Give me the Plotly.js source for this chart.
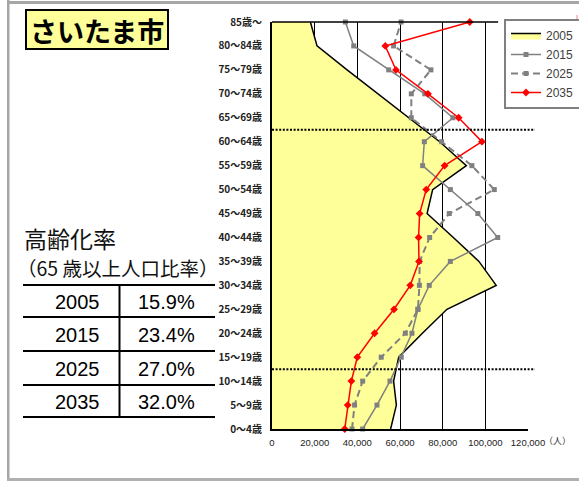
<!DOCTYPE html>
<html>
<head>
<meta charset="utf-8">
<script src="https://cdn.plot.ly/plotly-3.0.1.min.js"></script>
<style>
html,body{margin:0;padding:0;background:#fff;overflow:hidden;}
#chart{width:579px;height:481px;}
</style>
</head>
<body>
<div id="chart"></div>
<script>
// ---- data ----
const ageGroups = ["0〜4歳","5〜9歳","10〜14歳","15〜19歳","20〜24歳","25〜29歳","30〜34歳","35〜39歳","40〜44歳","45〜49歳","50〜54歳","55〜59歳","60〜64歳","65〜69歳","70〜74歳","75〜79歳","80〜84歳","85歳〜"];
const pop2005 = [55600, 58300, 57000, 59400, 70500, 82000, 105100, 97000, 85000, 72700, 75300, 91100, 78600, 64000, 49700, 35200, 21100, 18000];
const pop2015 = [42500, 49200, 55300, 60600, 65600, 68400, 73700, 83600, 105800, 96500, 83600, 70600, 71400, 84800, 71600, 54700, 38300, 34400];
const pop2025 = [37500, 38700, 42500, 51200, 62500, 68400, 69100, 69200, 73900, 83100, 104200, 93700, 79500, 65300, 65300, 74500, 57000, 60500];
const pop2035 = [34100, 35500, 37200, 40000, 48100, 57200, 64800, 68900, 68700, 69200, 72300, 80900, 98400, 87500, 73100, 58100, 53100, 92700];
const seriesNames = ["2005", "2015", "2025", "2035"];
const xTickVals = [0, 20000, 40000, 60000, 80000, 100000, 120000];
const xTickText = ["0", "20,000", "40,000", "60,000", "80,000", "100,000", "120,000"];
const tableYears = ["2005", "2015", "2025", "2035"];
const tableRates = ["15.9%", "23.4%", "27.0%", "32.0%"];
const cityName = "さいたま市";
const rateTitle = "高齢化率";
const rateSub = "（65 歳以上人口比率）";
const unitLabel = "（人）";

// ---- geometry helpers (pixel -> paper) ----
const W = 579, H = 481;
const L = 272, R = 528, T = 22, B = 429;
const px = x => (x - L) / (R - L);
const py = y => (B - y) / (B - T);

const traces = [
  {
    name: seriesNames[0], x: pop2005, y: ageGroups, type: "scatter", mode: "lines",
    fill: "tozerox", fillcolor: "#FFFF99",
    line: {color: "#000000", width: 1.5}
  },
  {
    name: seriesNames[1], x: pop2015, y: ageGroups, type: "scatter", mode: "lines+markers",
    line: {color: "#808080", width: 1.5},
    marker: {symbol: "square", size: 5, color: "#808080"}, cliponaxis: false
  },
  {
    name: seriesNames[2], x: pop2025, y: ageGroups, type: "scatter", mode: "lines+markers",
    line: {color: "#808080", width: 2, dash: "7px,4px"},
    marker: {symbol: "square", size: 5, color: "#808080"}, cliponaxis: false
  },
  {
    name: seriesNames[3], x: pop2035, y: ageGroups, type: "scatter", mode: "lines+markers",
    line: {color: "#FF0000", width: 1.5},
    marker: {symbol: "diamond", size: 6, color: "#FF0000"}, cliponaxis: false
  }
];

const shapes = [];
const annotations = [];

// outer frame
shapes.push({type: "rect", xref: "paper", yref: "paper", x0: px(7), x1: px(9.5), y0: py(0), y1: py(481), fillcolor: "#A6A6A6", line: {width: 0}});
shapes.push({type: "rect", xref: "paper", yref: "paper", x0: px(7), x1: px(579), y0: py(1), y1: py(4), fillcolor: "#A6A6A6", line: {width: 0}});
shapes.push({type: "rect", xref: "paper", yref: "paper", x0: px(7), x1: px(579), y0: py(478), y1: py(481), fillcolor: "#B0B0B0", line: {width: 0}});
shapes.push({type: "line", xref: "paper", yref: "paper", x0: px(577), x1: px(577), y0: py(15), y1: py(95), line: {color: "#F08080", width: 1}});

// plot top border line
shapes.push({type: "line", xref: "x", yref: "paper", x0: 0, x1: 106000, y0: 1, y1: 1, line: {color: "#000", width: 1.5}});

// dotted reference lines (between 60-64/65-69 and 10-14/15-19)
[12.5, 2.5].forEach(v => {
  shapes.push({type: "line", xref: "paper", yref: "y", x0: 0, x1: px(535), y0: v, y1: v, line: {color: "#000", width: 2, dash: "2px,1.6px"}});
});

// city title box
shapes.push({type: "rect", xref: "paper", yref: "paper", x0: px(26), x1: px(168), y0: py(49), y1: py(10), fillcolor: "#FFFF99", line: {color: "#000", width: 2}});
annotations.push({xref: "paper", yref: "paper", x: px(97), y: py(30), text: cityName, showarrow: false, xanchor: "center", yanchor: "middle",
  font: {family: "Noto Sans CJK JP", size: 27, color: "#000", weight: "bold"}});

// rate title
annotations.push({xref: "paper", yref: "paper", x: px(23), y: py(237.5), text: rateTitle, showarrow: false, xanchor: "left", yanchor: "middle",
  borderpad: 0, font: {family: "Noto Sans CJK JP", size: 23, color: "#111"}});
annotations.push({xref: "paper", yref: "paper", x: px(16), y: py(267), text: rateSub, showarrow: false, xanchor: "left", yanchor: "middle",
  borderpad: 0, font: {family: "Noto Sans CJK JP", size: 19.5, color: "#111"}});

// table
const rowLines = [285, 317, 351, 385, 417];
rowLines.forEach(y => {
  shapes.push({type: "line", xref: "paper", yref: "paper", x0: px(23), x1: px(215), y0: py(y), y1: py(y), line: {color: "#000", width: 2}});
});
shapes.push({type: "line", xref: "paper", yref: "paper", x0: px(119.5), x1: px(119.5), y0: py(rowLines[0]), y1: py(rowLines[rowLines.length - 1]), line: {color: "#000", width: 2}});
tableYears.forEach((yr, i) => {
  const yc = (rowLines[i] + rowLines[i + 1]) / 2 + 1;
  annotations.push({xref: "paper", yref: "paper", x: px(77), y: py(yc), text: yr, showarrow: false, xanchor: "center", yanchor: "middle",
    font: {family: "Liberation Sans, Arial", size: 20, color: "#000"}});
  annotations.push({xref: "paper", yref: "paper", x: px(166), y: py(yc), text: tableRates[i], showarrow: false, xanchor: "center", yanchor: "middle",
    font: {family: "Liberation Sans, Arial", size: 20, color: "#000"}});
});

// unit label
annotations.push({xref: "paper", yref: "paper", x: px(557), y: py(440), text: unitLabel, showarrow: false, xanchor: "center", yanchor: "middle",
  font: {family: "Noto Sans CJK JP", size: 9, color: "#333"}});

const layout = {
  width: W, height: H,
  margin: {l: L, r: W - R, t: T, b: H - B, pad: 0, autoexpand: false},
  paper_bgcolor: "#fff", plot_bgcolor: "#fff",
  showlegend: true,
  legend: {
    x: px(504), y: py(19), xanchor: "left", yanchor: "top",
    bgcolor: "#fff", bordercolor: "#808080", borderwidth: 2,
    font: {family: "Liberation Sans, Arial", size: 12, color: "#404040"},
    itemwidth: 30, tracegroupgap: 0
  },
  xaxis: {
    range: [0, 120000], tickvals: xTickVals, ticktext: xTickText,
    showgrid: true, gridcolor: "#000", gridwidth: 1, zeroline: false,
    showline: true, linecolor: "#000", linewidth: 2, ticks: "",
    ticklabelstandoff: 4,
    tickfont: {family: "Liberation Sans, Arial", size: 9.5, color: "#222"},
    fixedrange: true
  },
  yaxis: {
    type: "category", categoryorder: "array", categoryarray: ageGroups,
    range: [0, ageGroups.length - 1],
    showgrid: false, zeroline: false,
    showline: true, linecolor: "#000", linewidth: 2, ticks: "",
    ticklabelstandoff: 6,
    tickfont: {family: "Noto Sans CJK JP", size: 10, color: "#222", weight: "bold"},
    fixedrange: true
  },
  shapes: shapes,
  annotations: annotations
};

Plotly.newPlot("chart", traces, layout, {displayModeBar: false, staticPlot: true});
</script>
</body>
</html>
